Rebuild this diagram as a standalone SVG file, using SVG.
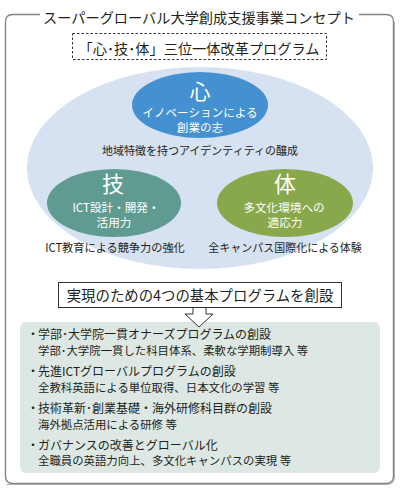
<svg xmlns="http://www.w3.org/2000/svg" width="400" height="490" viewBox="0 0 400 490">
<style>
text{font-family:"Noto Sans CJK JP","Noto Sans",sans-serif;fill:#231f20}
.w{fill:#ffffff}
.c{text-anchor:middle}
.b{font-size:12px}
.s{font-size:11.4px}
</style>
<rect width="400" height="490" fill="#ffffff"/>
<g id="frame">
<path d="M40,14.5 H13 Q5.5,14.5 5.5,22 V476 Q5.5,483.5 13,483.5 H386 Q393.5,483.5 393.5,476 V22 Q393.5,14.5 386,14.5 H359" fill="none" stroke="#858585" stroke-width="1.4"/>
<path d="M6.5,484.5 H387 Q394.5,484.5 394.5,477 V22" fill="none" stroke="#b0b0b0" stroke-width="1"/>
<text class="c" x="199" y="22.5" font-size="14.2">スーパーグローバル大学創成支援事業コンセプト</text>
</g>
<g id="subtitle">
<rect x="72.5" y="33.5" width="254" height="26" fill="#ffffff" stroke="#333" stroke-width="1" stroke-dasharray="2.5,2"/>
<text class="c" x="199" y="54" font-size="14.2">「心･技･体」三位一体改革プログラム</text>
</g>
<g id="big-ellipse">
<ellipse cx="200" cy="168" rx="173" ry="101" fill="#d6e1f2"/>
<text class="c" x="200" y="155" font-size="11">地域特徴を持つアイデンティティの醸成</text>
</g>
<g id="kokoro">
<ellipse cx="200" cy="105" rx="68" ry="33" fill="#4590d0"/>
<text class="c w" x="200" y="99" font-size="21">心</text>
<text class="c w" x="200" y="117" font-size="11.6">イノベーションによる</text>
<text class="c w" x="200" y="132" font-size="11.6">創業の志</text>
</g>
<g id="gi">
<ellipse cx="114" cy="203" rx="67" ry="34" fill="#5f9b91"/>
<text class="c w" x="113" y="192" font-size="22">技</text>
<text class="c w" x="116" y="212" font-size="11.6">ICT設計・開発・</text>
<text class="c w" x="114" y="227" font-size="11.6">活用力</text>
<text class="c" x="115" y="252" font-size="11.2">ICT教育による競争力の強化</text>
</g>
<g id="tai">
<ellipse cx="285" cy="203" rx="68" ry="34" fill="#88a84b"/>
<text class="c w" x="285" y="192" font-size="22">体</text>
<text class="c w" x="284" y="212" font-size="11.6">多文化環境への</text>
<text class="c w" x="285" y="227" font-size="11.6">適応力</text>
<text class="c" x="285" y="252" font-size="11">全キャンパス国際化による体験</text>
</g>
<g id="programs-box">
<rect x="20" y="322" width="360" height="151" rx="6" fill="#dde8e5"/>
<text class="b" x="27" y="339">・</text>
<text class="b" x="38" y="339">学部･大学院一貫オナーズプログラムの創設</text>
<text class="s" x="38" y="355">学部･大学院一貫した科目体系、柔軟な学期制導入 等</text>
<text class="b" x="27" y="376">・</text>
<text class="b" x="38" y="376">先進ICTグローバルプログラムの創設</text>
<text class="s" x="38" y="392">全教科英語による単位取得、日本文化の学習 等</text>
<text class="b" x="27" y="413">・</text>
<text class="b" x="38" y="413">技術革新･創業基礎・海外研修科目群の創設</text>
<text class="s" x="38" y="429">海外拠点活用による研修 等</text>
<text class="b" x="27" y="450">・</text>
<text class="b" x="38" y="450">ガバナンスの改善とグローバル化</text>
<text class="s" x="38" y="465">全職員の英語力向上、多文化キャンパスの実現 等</text>
</g>
<g id="connectors">
<path d="M193,307 V314 H185 L199,327 L213,314 H206 V307" fill="#ffffff" stroke="#333" stroke-width="1"/>
</g>
<g id="basic-box">
<rect x="58.5" y="282.5" width="283" height="25" fill="#ffffff" stroke="#333" stroke-width="1"/>
<text class="c" x="200" y="301" font-size="14.4">実現のための4つの基本プログラムを創設</text>
</g>
</svg>
